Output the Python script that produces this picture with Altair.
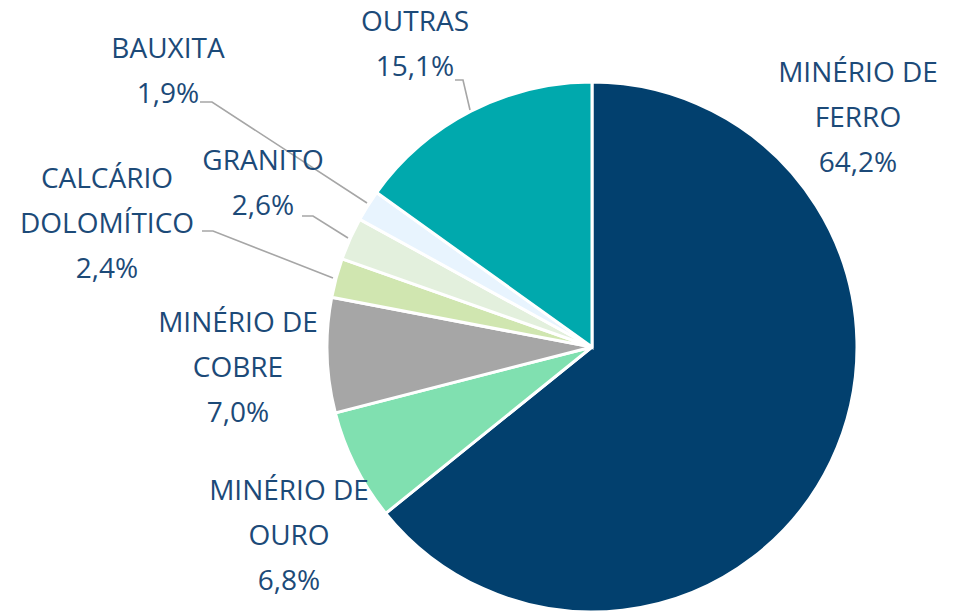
import altair as alt
import pandas as pd

# ---- data ----
names = ["Minério de Ferro", "Minério de Ouro", "Minério de Cobre",
         "Calcário Dolomítico", "Granito", "Bauxita", "Outras"]
label_names = ["MINÉRIO DE\nFERRO", "MINÉRIO DE\nOURO", "MINÉRIO DE\nCOBRE",
               "CALCÁRIO\nDOLOMÍTICO", "GRANITO", "BAUXITA", "OUTRAS"]
values = [64.2, 6.8, 7.0, 2.4, 2.6, 1.9, 15.1]
colors = ["#02406e", "#80e0b0", "#a6a6a6", "#d0e6b0", "#e3f0dd", "#e8f4fe", "#00a9ad"]

# ---- layout (page pixel positions of annotation labels / leader lines) ----
OFF = 8
CX, CY, R = 592 - OFF, 347 - OFF, 265
label_x = [858, 289, 238, 107, 263, 168, 415]
label_y = [74, 492, 324, 180, 162, 50, 23]   # middle of first text line
leaders = {
    "Outras": [(455, 80), (463, 80), (470, 110)],
    "Bauxita": [(200, 102), (212, 102), (367, 203)],
    "Granito": [(302, 216), (313, 216), (348, 238)],
    "Calcário Dolomítico": [(202, 231), (213, 231), (333, 278)],
}

df = pd.DataFrame({
    "name": names,
    "value": values,
    "order": list(range(len(names))),
    "label": [f"{ln}\n{v:.1f}".replace(".", ",") + "%" for ln, v in zip(label_names, values)],
    "lx": [x - OFF for x in label_x],
    "ly": [y - OFF for y in label_y],
})

rows = []
for k, pts in leaders.items():
    for i, (x, y) in enumerate(pts):
        rows.append({"g": k, "i": i, "x": x - OFF, "y": y - OFF})
lead_df = pd.DataFrame(rows)

pie = alt.Chart(df).mark_arc(
    radius=R, x=CX, y=CY, stroke="white", strokeWidth=3
).encode(
    theta=alt.Theta("value:Q", stack=True),
    order=alt.Order("order:Q"),
    color=alt.Color("name:N", scale=alt.Scale(domain=names, range=colors), legend=None),
)

lines = alt.Chart(lead_df).mark_line(color="#a6a6a6", strokeWidth=1.6).encode(
    x=alt.X("x:Q", scale=None),
    y=alt.Y("y:Q", scale=None),
    detail="g:N",
    order="i:Q",
)

labels = alt.Chart(df).mark_text(
    font="Open Sans", fontSize=28, color="#1c4a78", align="center",
    baseline="middle", lineBreak="\n", lineHeight=45,
).encode(
    x=alt.X("lx:Q", scale=None),
    y=alt.Y("ly:Q", scale=None),
    text="label:N",
)

chart = alt.layer(pie, lines, labels).properties(
    width=939, height=603, padding=0, autosize="none"
).configure_view(stroke=None)

chart.save("out.html", embed_options={"renderer": "svg", "actions": False})
